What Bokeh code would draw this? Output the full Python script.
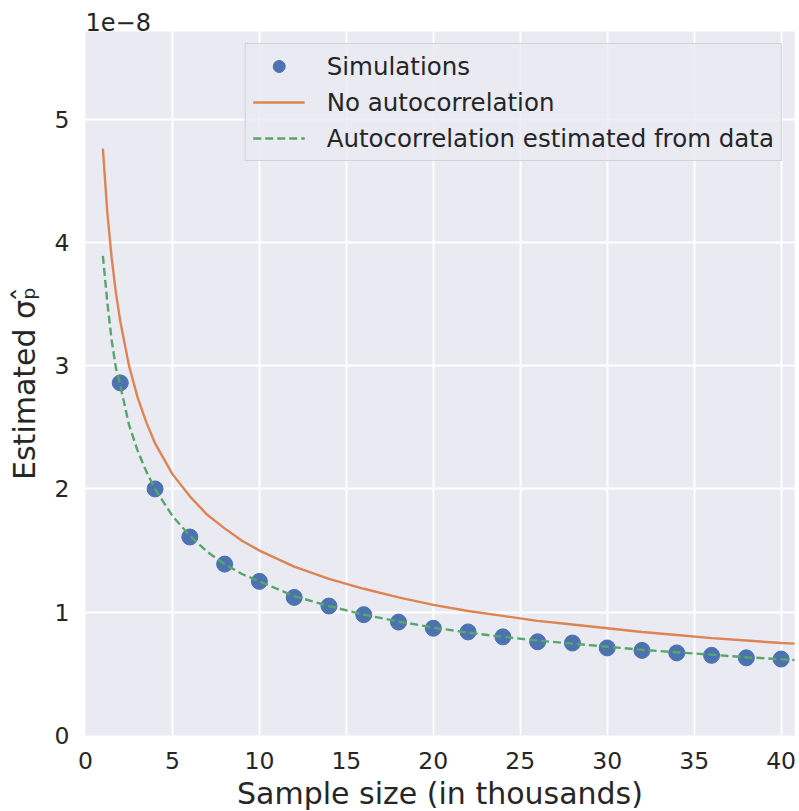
from bokeh.plotting import figure
from bokeh.models import Range1d, FixedTicker
from bokeh.embed import file_html
from bokeh.resources import INLINE

# ---- data (y in units of 1e-8, x in thousands) ----
sim_x = [2, 4, 6, 8, 10, 12, 14, 16, 18, 20, 22, 24, 26, 28, 30, 32, 34, 36, 38, 40]
sim_y = [2.86, 2.00, 1.61, 1.39, 1.25, 1.12, 1.05, 0.98, 0.92, 0.87,
         0.84, 0.80, 0.76, 0.75, 0.71, 0.69, 0.67, 0.65, 0.63, 0.62]

curve_x = [1, 1.25, 1.5, 1.75, 2, 2.5, 3, 3.5, 4, 5, 6, 7, 8, 9, 10, 12, 14, 16,
           18, 20, 22, 24, 26, 28, 30, 32, 34, 36, 38, 40, 40.8]
no_auto_y = [4.76, 4.25, 3.88, 3.59, 3.36, 3.00, 2.74, 2.54, 2.37, 2.12, 1.94, 1.79,
             1.68, 1.58, 1.50, 1.37, 1.27, 1.19, 1.12, 1.06, 1.01, 0.97, 0.93,
             0.90, 0.87, 0.84, 0.815, 0.79, 0.77, 0.75, 0.745]
auto_y = [3.89, 3.52, 3.21, 2.98, 2.84, 2.52, 2.31, 2.14, 2.00, 1.78, 1.62, 1.49,
          1.39, 1.31, 1.25, 1.13, 1.05, 0.98, 0.925, 0.875, 0.835, 0.80, 0.77,
          0.745, 0.72, 0.695, 0.675, 0.655, 0.635, 0.618, 0.612]

x_ticks = [0, 5, 10, 15, 20, 25, 30, 35, 40]
y_ticks = [0, 1, 2, 3, 4, 5]

BLUE = "#4c72b0"
ORANGE = "#dd8452"
GREEN = "#55a868"
BG = "#eaeaf2"
TXT = "#262626"
FONT = "DejaVu Sans"

p = figure(frame_width=709, frame_height=704, output_backend="svg", toolbar_location=None,
           x_range=Range1d(0, 40.77), y_range=Range1d(0, 5.71),
           min_border_left=85, min_border_right=5, min_border_top=31,
           min_border_bottom=0)

p.background_fill_color = BG
p.border_fill_color = "white"
p.outline_line_color = None

# offset text of the y axis, shown as the plot title at the top-left of the frame
p.title.text = "1e\u22128"
p.title.align = "left"
p.title.offset = 0
p.title.standoff = 2
p.title.text_font = FONT
p.title.text_font_size = "24px"
p.title.text_font_style = "normal"
p.title.text_color = TXT

p.scatter(sim_x, sim_y, size=16, color=BLUE, legend_label="Simulations")
p.line(curve_x, no_auto_y, line_width=2.4, color=ORANGE, legend_label="No autocorrelation")
p.line(curve_x, auto_y, line_width=2.4, color=GREEN, line_dash="8 4",
       legend_label="Autocorrelation estimated from data")

for ax in (p.xaxis[0], p.yaxis[0]):
    ax.axis_line_color = None
    ax.major_tick_line_color = None
    ax.minor_tick_line_color = None
    ax.major_tick_in = 0
    ax.major_tick_out = 0
    ax.minor_tick_in = 0
    ax.minor_tick_out = 0
    ax.major_label_text_font = FONT
    ax.major_label_text_font_size = "23.5px"
    ax.major_label_text_color = TXT
    ax.axis_label_text_font = FONT
    ax.axis_label_text_font_size = "30px"
    ax.axis_label_text_font_style = "normal"
    ax.axis_label_text_color = TXT

p.xaxis[0].ticker = FixedTicker(ticks=x_ticks)
p.yaxis[0].ticker = FixedTicker(ticks=y_ticks)
p.xaxis[0].major_label_standoff = 16
p.yaxis[0].major_label_standoff = 16
p.xaxis[0].axis_label = "Sample size (in thousands)"
p.yaxis[0].axis_label = "Estimated \u03c3\u209a\u0302"
p.xaxis[0].axis_label_standoff = 4
p.yaxis[0].axis_label_standoff = 10

p.xgrid.grid_line_color = "white"
p.ygrid.grid_line_color = "white"
p.xgrid.grid_line_width = 1.8
p.ygrid.grid_line_width = 1.8

lg = p.legend[0]
lg.location = "top_right"
lg.margin = 12
lg.padding = 7
lg.spacing = 6
lg.label_height = 30
lg.glyph_height = 30
lg.glyph_width = 52
lg.label_standoff = 22
lg.label_text_font = FONT
lg.label_text_font_size = "24.5px"
lg.label_text_color = TXT
lg.background_fill_color = BG
lg.background_fill_alpha = 0.8
lg.border_line_color = "#cccccc"
lg.border_line_alpha = 0.8
lg.border_line_width = 1.3

open("out.html", "w").write(file_html(p, INLINE))
